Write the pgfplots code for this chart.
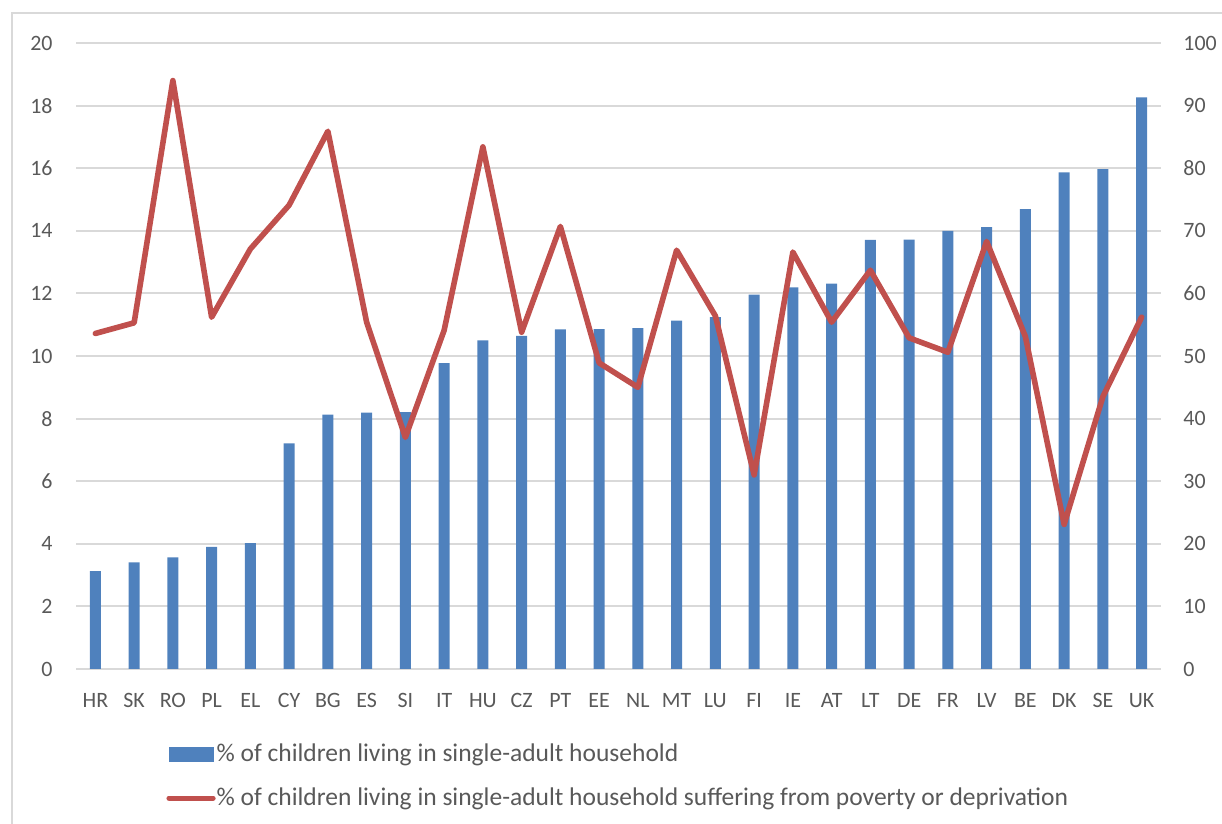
\documentclass[border=0pt]{standalone}
\usepackage{pgfplots}
\pgfplotsset{compat=1.18}
\usepackage{pgfplotstable}
\usepackage{fontspec}
\setmainfont{Carlito}
\definecolor{barblue}{HTML}{4F81BD}
\definecolor{linered}{HTML}{C0504D}
\definecolor{gridgray}{HTML}{D9D9D9}
\definecolor{textgray}{HTML}{595959}

\pgfplotstableread{
idx share poverty
0  3.13 53.6
1  3.41 55.3
2  3.57 94.0
3  3.90 56.2
4  4.02 67.1
5  7.21 74.1
6  8.13 85.9
7  8.19 55.4
8  8.21 37.0
9  9.77 54.1
10 10.50 83.4
11 10.64 53.8
12 10.85 70.7
13 10.86 48.9
14 10.89 45.0
15 11.13 66.9
16 11.24 56.4
17 11.96 31.0
18 12.19 66.6
19 12.31 55.4
20 13.71 63.7
21 13.72 52.9
22 14.00 50.6
23 14.12 68.3
24 14.69 53.1
25 15.87 23.1
26 15.97 43.5
27 18.26 56.2
}\datatable

\begin{document}
\begin{tikzpicture}[font=\fontsize{11}{13}\selectfont]
\begin{axis}[
  name=ax1, at={(0,0)}, anchor=south west,
  scale only axis, width=542.5bp, height=313bp,
  xmin=-0.5, xmax=27.5, ymin=0, ymax=20,
  ytick={0,2,...,20},
  xtick={0,...,27},
  xticklabels={HR,SK,RO,PL,EL,CY,BG,ES,SI,IT,HU,CZ,PT,EE,NL,MT,LU,FI,IE,AT,LT,DE,FR,LV,BE,DK,SE,UK},
  ymajorgrids, grid style={gridgray, line width=1bp},
  axis line style={draw=none}, tick style={draw=none},
  axis y line*=left, axis x line*=bottom,
  /pgf/number format/assume math mode=true,
  ticklabel style={text=textgray},
  yticklabel style={anchor=east, inner sep=0pt, xshift=-11.5bp},
  xticklabel style={anchor=north, inner sep=0pt, yshift=-12bp},
]
\addplot[ybar, bar width=5.5bp, fill=barblue, draw=none] table[x=idx, y=share] {\datatable};
\end{axis}
\begin{axis}[
  at={(0,0)}, anchor=south west,
  scale only axis, width=542.5bp, height=313bp,
  xmin=-0.5, xmax=27.5, ymin=0, ymax=100,
  ytick={0,10,...,100},
  axis x line=none, axis y line*=right,
  axis line style={draw=none}, tick style={draw=none},
  /pgf/number format/assume math mode=true,
  ticklabel style={text=textgray},
  yticklabel style={anchor=west, inner sep=0pt, xshift=11bp},
  legend cell align=left,
  legend style={at={(0.083,-0.113)}, anchor=north west, draw=none, fill=none,
    inner sep=0pt, row sep=7.5bp, text=textgray, font=\fontsize{12.8}{15}\selectfont,
    nodes={inner xsep=0.5bp}},
]
\addlegendimage{legend image code/.code={\fill[barblue] (0bp,-3.5bp) rectangle (22bp,3.5bp);}}
\addlegendentry{\% of children living in single-adult household}
\addplot[linered, line width=2.8bp, line join=round, line cap=round,
  legend image code/.code={\draw[linered, line width=2.6bp, line cap=round] (0bp,0bp)--(22bp,0bp);}]
  table[x=idx, y=poverty] {\datatable};
\addlegendentry{\% of children living in single-adult household suffering from poverty or deprivation}
\end{axis}
\draw[gridgray, line width=1bp] (-32bp,-120bp) -- (-32bp,328bp) -- (640bp,328bp);
\pgfresetboundingbox
\useasboundingbox (-38bp,-77.5bp) rectangle (573bp,334.5bp);
\end{tikzpicture}
\end{document}
